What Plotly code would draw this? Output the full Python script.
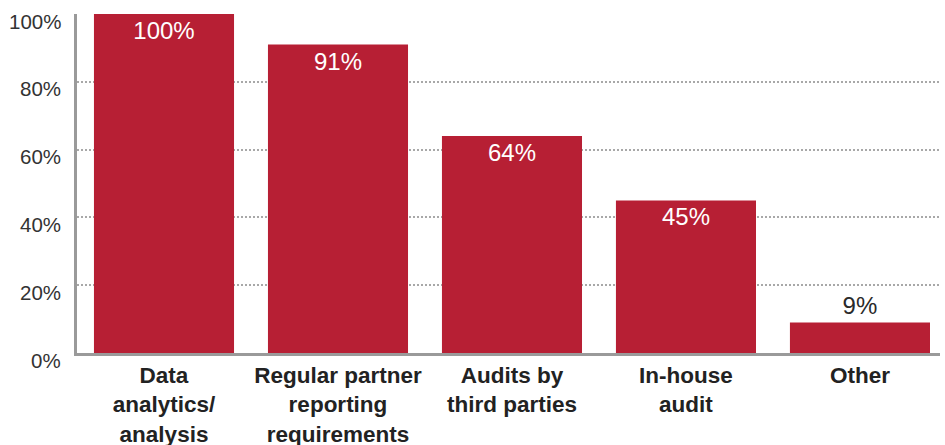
import plotly.graph_objects as go

# Share of respondents using each monitoring method
categories = [
    "Data<br>analytics/<br>analysis",
    "Regular partner<br>reporting<br>requirements",
    "Audits by<br>third parties",
    "In-house<br>audit",
    "Other",
]
values = [100, 91, 64, 45, 9]
tick_values = [0, 20, 40, 60, 80, 100]
tick_labels = ["0%", "20%", "40%", "60%", "80%", "100%"]

BAR_COLOR = "#B71F34"
AXIS_COLOR = "#9a9a9a"
FONT = "Liberation Sans, Arial, Helvetica, sans-serif"

x_pos = list(range(len(categories)))
text_pos = ["inside" if v >= 20 else "outside" for v in values]

fig = go.Figure(
    go.Bar(
        x=x_pos,
        y=values,
        marker=dict(color=BAR_COLOR, line=dict(width=0)),
        texttemplate="%{y}%",
        textposition=text_pos,
        insidetextanchor="end",
        insidetextfont=dict(color="white", size=24, family=FONT),
        outsidetextfont=dict(color="#2a2a2a", size=24, family=FONT),
        cliponaxis=False,
        hoverinfo="skip",
    )
)

# y tick labels sit slightly below their gridlines
annotations = [
    dict(
        x=0, xref="paper", y=v, yref="y",
        text=t, showarrow=False,
        xanchor="right", yanchor="middle",
        xshift=-14, yshift=-7,
        font=dict(size=20.5, color="#333333", family=FONT),
    )
    for v, t in zip(tick_values, tick_labels)
]

fig.update_layout(
    width=945,
    height=445,
    margin=dict(l=77, r=5, t=14, b=92, autoexpand=False),
    paper_bgcolor="white",
    plot_bgcolor="white",
    bargap=0.195,
    showlegend=False,
    annotations=annotations,
    font=dict(family=FONT),
)

fig.update_xaxes(
    range=[-0.5, 4.46],
    tickmode="array",
    tickvals=x_pos,
    ticktext=[f"<b>{c}</b>" for c in categories],
    tickfont=dict(size=22.5, color="#222222", family=FONT),
    ticks="",
    ticklabelstandoff=0,
    automargin=False,
    showline=True,
    linecolor=AXIS_COLOR,
    linewidth=3,
    showgrid=False,
    zeroline=False,
)

fig.update_yaxes(
    range=[0, 100],
    tickvals=tick_values,
    showticklabels=False,
    ticks="",
    automargin=False,
    showline=True,
    linecolor=AXIS_COLOR,
    linewidth=3,
    showgrid=True,
    gridcolor="#a8a8a8",
    gridwidth=2,
    griddash="2px,2px",
    zeroline=False,
)

fig.write_html("out.html")
